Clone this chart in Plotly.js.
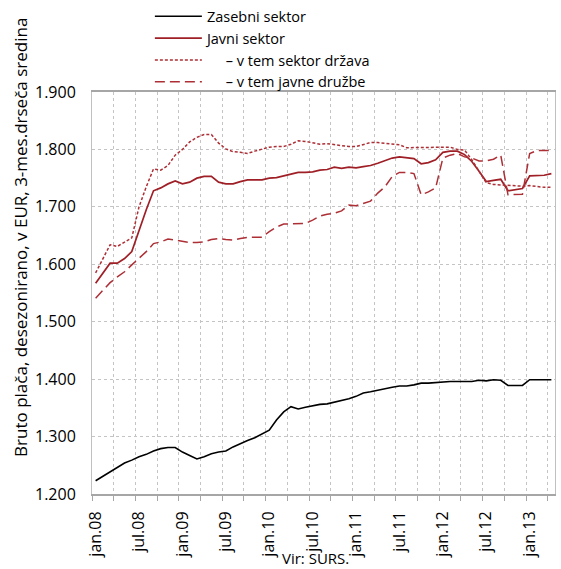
<!DOCTYPE html>
<html>
<head>
<meta charset="utf-8">
<script src="https://cdn.plot.ly/plotly-3.0.1.min.js"></script>
<style>
  body { margin: 0; background: #fff; }
  #chart { width: 561px; height: 569px; }
</style>
</head>
<body>
<div id="chart"></div>
<script>
// monthly data, jan.08 - apr.13 (64 months)
const tickLabels = ['jan.08', 'jul.08', 'jan.09', 'jul.09', 'jan.10', 'jul.10',
  'jan.11', 'jul.11', 'jan.12', 'jul.12', 'jan.13'];

const zasebni = [1223, 1231, 1239, 1247, 1254, 1259, 1265, 1269, 1275, 1279,
  1281, 1281, 1273, 1267, 1261, 1265, 1270, 1273, 1275, 1282,
  1288, 1293, 1298, 1305, 1311, 1329, 1343, 1352, 1348, 1351,
  1354, 1356, 1357, 1360, 1362, 1366, 1370, 1376, 1378, 1381,
  1383, 1386, 1388, 1388, 1390, 1393, 1393, 1394, 1396, 1396,
  1396, 1396, 1396, 1398, 1397, 1399, 1398, 1389, 1389, 1389,
  1399, 1399, 1399, 1399];

const javni = [1567, 1584, 1602, 1602, 1610, 1622, 1660, 1695, 1728, 1733,
  1740, 1745, 1740, 1743, 1750, 1753, 1753, 1743, 1740, 1740,
  1744, 1747, 1747, 1747, 1750, 1751, 1754, 1757, 1760, 1760,
  1761, 1764, 1765, 1769, 1767, 1769, 1768, 1770, 1772, 1776,
  1781, 1785, 1787, 1786, 1784, 1775, 1777, 1782, 1795, 1797,
  1797, 1791, 1779, 1762, 1744, 1746, 1748, 1728, 1730, 1732,
  1754, 1754, 1755, 1758];

const drzava = [1585, 1610, 1634, 1631, 1638, 1646, 1700, 1735, 1766, 1764,
  1772, 1790, 1800, 1813, 1821, 1826, 1826, 1811, 1801, 1796,
  1795, 1793, 1797, 1801, 1804, 1805, 1805, 1809, 1815, 1814,
  1811, 1809, 1810, 1808, 1806, 1805, 1805, 1809, 1812, 1812,
  1811, 1810, 1808, 1803, 1803, 1803, 1803, 1803, 1803, 1804,
  1800, 1799, 1782, 1761, 1742, 1739, 1738, 1737, 1737, 1736,
  1737, 1735, 1734, 1734];

const druzbe = [1541, 1555, 1568, 1578, 1587, 1599, 1610, 1622, 1636, 1639,
  1644, 1642, 1641, 1638, 1638, 1639, 1643, 1645, 1643, 1642,
  1645, 1647, 1647, 1647, 1657, 1665, 1670, 1670, 1670, 1671,
  1677, 1684, 1687, 1689, 1693, 1703, 1702, 1706, 1710, 1724,
  1735, 1753, 1760, 1760, 1758, 1721, 1726, 1733, 1785, 1790,
  1793, 1787, 1785, 1780, 1780, 1783, 1790, 1721, 1721, 1722,
  1793, 1798, 1798, 1798];

const months = zasebni.map((_, i) => i);
const tickPos = tickLabels.map((_, i) => i * 6);

const red = '#9f1f26';
const lightRed = '#ad2f36';
const font = 'Open Sans, Liberation Sans, sans-serif';
const indent = '\u00a0\u00a0\u00a0\u00a0\u00a0';

const data = [
  { x: months, y: zasebni, name: 'Zasebni sektor', type: 'scatter', mode: 'lines',
    line: { color: '#000000', width: 1.6 } },
  { x: months, y: javni, name: 'Javni sektor', type: 'scatter', mode: 'lines',
    line: { color: red, width: 1.7 } },
  { x: months, y: drzava, name: indent + '– v tem sektor država', type: 'scatter', mode: 'lines',
    line: { color: lightRed, width: 1.5, dash: '3px,2px' } },
  { x: months, y: druzbe, name: indent + '– v tem javne družbe', type: 'scatter', mode: 'lines',
    line: { color: lightRed, width: 1.5, dash: '10px,5px' } },
];

const layout = {
  width: 561,
  height: 569,
  margin: { l: 92, r: 6, t: 92, b: 75, autoexpand: false },
  paper_bgcolor: '#ffffff',
  plot_bgcolor: '#ffffff',
  separators: ',.',
  font: { family: font, size: 15, color: '#000000' },
  showlegend: true,
  legend: {
    x: 0.125, y: 1.228, xanchor: 'left', yanchor: 'top',
    itemwidth: 47,
    font: { family: font, size: 14.5, color: '#000000' },
    tracegroupgap: 0,
    bgcolor: 'rgba(0,0,0,0)',
  },
  xaxis: {
    automargin: false,
    range: [-0.5, 63.5],
    tickmode: 'array',
    tickvals: tickPos,
    ticktext: tickLabels,
    tickangle: -90,
    ticks: '',
    ticklabelstandoff: 9,
    showgrid: false,
    zeroline: false,
    showline: true,
    mirror: true,
    linecolor: '#a6a6a6',
    linewidth: 2,
    tickfont: { family: font, size: 16 },
    minor: {
      tickmode: 'linear', tick0: 2.5, dtick: 3,
      ticks: 'outside', ticklen: 5, tickcolor: '#a6a6a6',
      showgrid: true, gridcolor: '#c4c4c4', gridwidth: 1, griddash: 'dot',
    },
  },
  yaxis: {
    automargin: false,
    range: [1200, 1900],
    tickmode: 'linear', tick0: 1200, dtick: 100,
    tickformat: ',d',
    showgrid: true, gridcolor: '#c4c4c4', gridwidth: 1, griddash: 'dot',
    zeroline: false,
    showline: true, mirror: true, linecolor: '#c0c0c0', linewidth: 1,
    ticks: '',
    ticklabelstandoff: 12,
    tickfont: { family: font, size: 16 },
  },
  annotations: [
    { text: 'Bruto plača, desezonirano, v EUR, 3-mes.drseča sredina',
      xref: 'paper', yref: 'paper', x: -0.156, y: 0.639,
      xanchor: 'center', yanchor: 'middle', textangle: -90,
      showarrow: false, font: { family: font, size: 17 } },
    { text: 'Vir: SURS.', xref: 'paper', yref: 'paper', x: 0.482, y: -0.158,
      xanchor: 'center', yanchor: 'middle',
      showarrow: false, font: { family: font, size: 15 } },
  ],
};

Plotly.newPlot('chart', data, layout, { displayModeBar: false, staticPlot: true });
</script>
</body>
</html>
